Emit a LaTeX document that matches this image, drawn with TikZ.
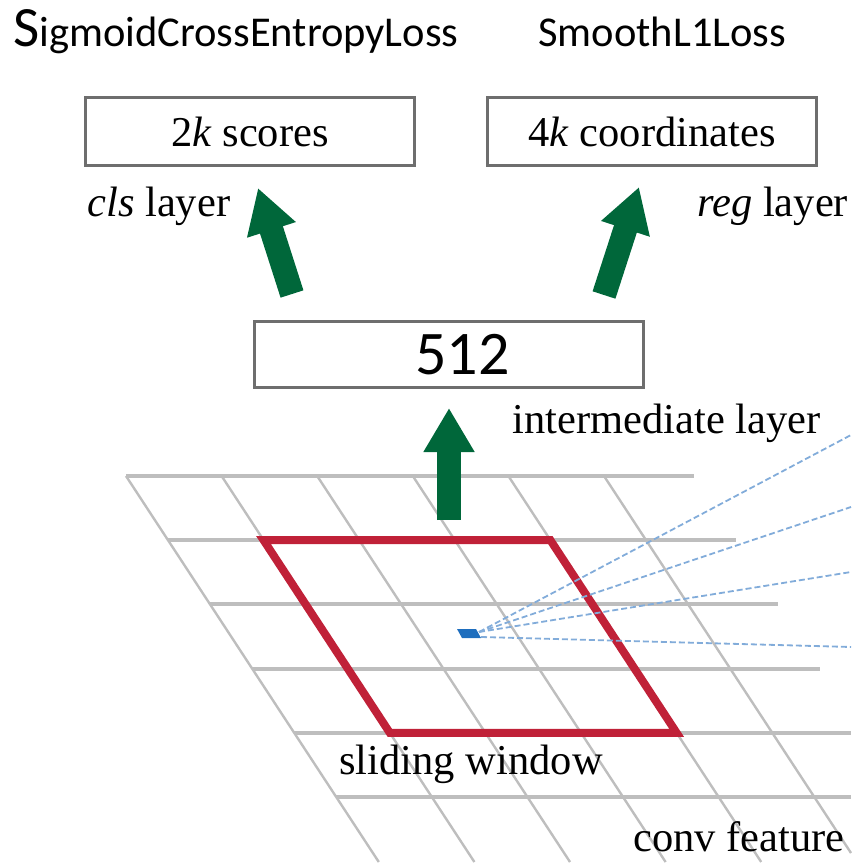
\documentclass[tikz,border=0pt]{standalone}
\usepackage{fontspec}
\setmainfont{Liberation Serif}
\newfontfamily\calibri{Carlito}
\usetikzlibrary{arrows.meta}
\definecolor{arrowgreen}{RGB}{0,103,58}
\definecolor{windowred}{RGB}{192,33,56}
\definecolor{gridgray}{RGB}{190,190,190}
\definecolor{rayblue}{RGB}{130,172,218}
\definecolor{cellblue}{RGB}{30,110,190}
\definecolor{boxgray}{RGB}{110,110,110}

\begin{document}
\begin{tikzpicture}[x=0.5pt, y=-0.5pt,
  txt/.style={inner sep=0, anchor=base west, font=\fontsize{21.25}{24}\selectfont},
  losstxt/.style={txt, font=\calibri\fontsize{21.25}{24}\selectfont},
  layerbox/.style={draw=boxgray, line width=1.5pt, minimum width=164.5pt, minimum height=34pt, inner sep=0, font=\fontsize{21.25}{24}\selectfont},
  bigarrow/.style={arrowgreen, line width=12pt, -{Triangle[length=22pt, width=24pt]}},
  hline/.style={gridgray, line width=2pt},
  sline/.style={gridgray, line width=1.2pt},
  ray/.style={rayblue, line width=0.9pt, dash pattern=on 3pt off 1.5pt}]
\useasboundingbox (0, 0) rectangle (851, 865);
% conv feature map
\draw[hline] (126, 476) -- (694, 476);
\draw[hline] (168, 540.2) -- (736, 540.2);
\draw[hline] (210.1, 604.4) -- (778, 604.4);
\draw[hline] (252.2, 668.6) -- (820, 668.6);
\draw[hline] (294.2, 732.8) -- (851, 732.8);
\draw[hline] (336.3, 797) -- (851, 797);
\draw[sline] (126, 476) -- (378.8, 862);
\draw[sline] (221.6, 476) -- (474.4, 862);
\draw[sline] (317.2, 476) -- (570, 862);
\draw[sline] (412.8, 476) -- (665.6, 862);
\draw[sline] (508.4, 476) -- (761.2, 862);
\draw[sline] (604, 476) -- (851, 853);
% sliding window
\draw[windowred, line width=4pt] (263.6, 540.2) -- (550.4, 540.2) -- (676.6, 732.8) -- (389.8, 732.8) -- cycle;
\coordinate (cell) at (479, 632);
\coordinate (rayA) at (851, 435);
\coordinate (rayB) at (851, 507);
\coordinate (rayC) at (851, 572);
\coordinate (rayD) at (851, 647);
\draw[ray] (cell) -- (rayA);
\draw[ray] (cell) -- (rayB);
\draw[ray] (cell) -- (rayC);
\draw[ray] (481, 637) -- (rayD);
\fill[cellblue] (457, 629) -- (476, 629) -- (481, 638) -- (462, 638) -- cycle;
% layers
\node[layerbox] (scores) at (250, 132) {2\textit{k} scores};
\node[layerbox] (coords) at (652, 132) {4\textit{k} coordinates};
\node[layerbox, minimum width=194.5pt, minimum height=32.5pt, font=\calibri\fontsize{31}{34}\selectfont] (inter) at (448.5, 354.5) {\hspace*{14pt}512};
\node[losstxt] (clsloss) at (13, 47) {{\fontsize{28.5}{30}\selectfont S}igmoidCrossEntropyLoss};
\node[losstxt] (regloss) at (538, 47) {SmoothL1Loss};
\node[txt] (clslabel) at (87, 217) {\textit{cls} layer};
\node[txt] (reglabel) at (697, 217) {\textit{reg} layer};
\node[txt] (interlabel) at (512, 433) {intermediate layer};
\node[txt] (windowlabel) at (339, 774) {sliding window};
\node[txt] (featlabel) at (633, 851) {conv feature};
% arrows
\coordinate (clstail) at (292, 294);
\coordinate (clstip) at (258, 188);
\coordinate (regtail) at (604, 295);
\coordinate (regtip) at (639, 187);
\coordinate (midtail) at (449, 520);
\coordinate (midtip) at (449, 408);
\draw[bigarrow] (clstail) -- (clstip);
\draw[bigarrow] (regtail) -- (regtip);
\draw[bigarrow] (midtail) -- (midtip);
\end{tikzpicture}
\end{document}
